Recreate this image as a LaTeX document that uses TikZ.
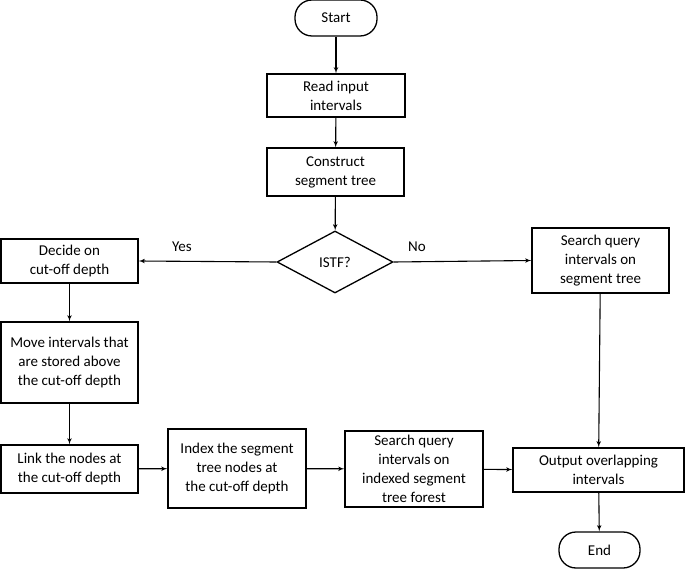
\documentclass[tikz,border=0pt]{standalone}
\usepackage{fontspec}
\setmainfont{Carlito}
\usetikzlibrary{arrows,shapes,positioning}

\begin{document}
\begin{tikzpicture}
[x=1pt,y=-1pt,
font=\fontsize{15}{19}\selectfont,
proc/.style={draw,line width=1.3pt,rectangle,align=center,inner sep=0pt},
term/.style={draw,line width=1.3pt,rectangle,rounded corners=17pt,align=center,inner sep=0pt},
dec/.style={draw,line width=1.3pt,diamond,aspect=1.87,inner sep=0pt},
dedge/.style={->,black,line width=1.1pt,>=latex', shorten >=.0pt, shorten <=.0pt},
lab/.style={inner sep=0pt}]
\useasboundingbox (0,0) rectangle (685,569);
%% Main column
\node[term,minimum width=82pt,minimum height=36pt] (start) at (336,18) {Start};
\node[proc,minimum width=138pt,minimum height=43pt] (read) at (336,95.5) {Read input\\intervals};
\node[proc,minimum width=137pt,minimum height=48pt] (cons) at (335.5,172) {Construct\\segment tree};
\node[dec,minimum width=116pt,minimum height=62pt] (istf) at (335,262) {ISTF?};
% Yes branch
\node[proc,minimum width=137pt,minimum height=44pt] (decide) at (69.5,261) {Decide on\\cut-off depth};
\node[proc,minimum width=137pt,minimum height=81pt] (move) at (69.5,362.5) {Move intervals that\\are stored above\\the cut-off depth};
\node[proc,minimum width=137pt,minimum height=48pt] (link) at (69.5,469) {Link the nodes at\\the cut-off depth};
\node[proc,minimum width=138pt,minimum height=79pt] (index) at (237,468.5) {Index the segment\\tree nodes at\\the cut-off depth};
\node[proc,minimum width=138pt,minimum height=76pt] (sidx) at (414,469) {Search query\\intervals on\\indexed segment\\tree forest};
% No branch
\node[proc,minimum width=137pt,minimum height=65pt] (sq) at (600.5,260.5) {Search query\\intervals on\\segment tree};
%% Output
\node[proc,minimum width=171pt,minimum height=44pt] (out) at (598.5,470) {Output overlapping\\intervals};
\node[term,minimum width=81pt,minimum height=36pt] (end) at (599.5,550) {End};
% labels
\node[lab] (yes) at (182,247) {Yes};
\node[lab] (no) at (417,247) {No};
% edges
\draw[dedge] (start) -- (read);
\draw[dedge] (read) -- (cons);
\draw[dedge] (cons) -- (istf);
\draw[dedge] (istf.west) -- (decide.east);
\draw[dedge] (istf.east) -- (sq.west);
\draw[dedge] (decide) -- (move);
\draw[dedge] (move) -- (link);
\draw[dedge] (link) -- (index);
\draw[dedge] (index) -- (sidx);
\draw[dedge] (sidx) -- (out);
\draw[dedge] (sq) -- (out);
\draw[dedge] (out) -- (end);
\end{tikzpicture}
\end{document}
